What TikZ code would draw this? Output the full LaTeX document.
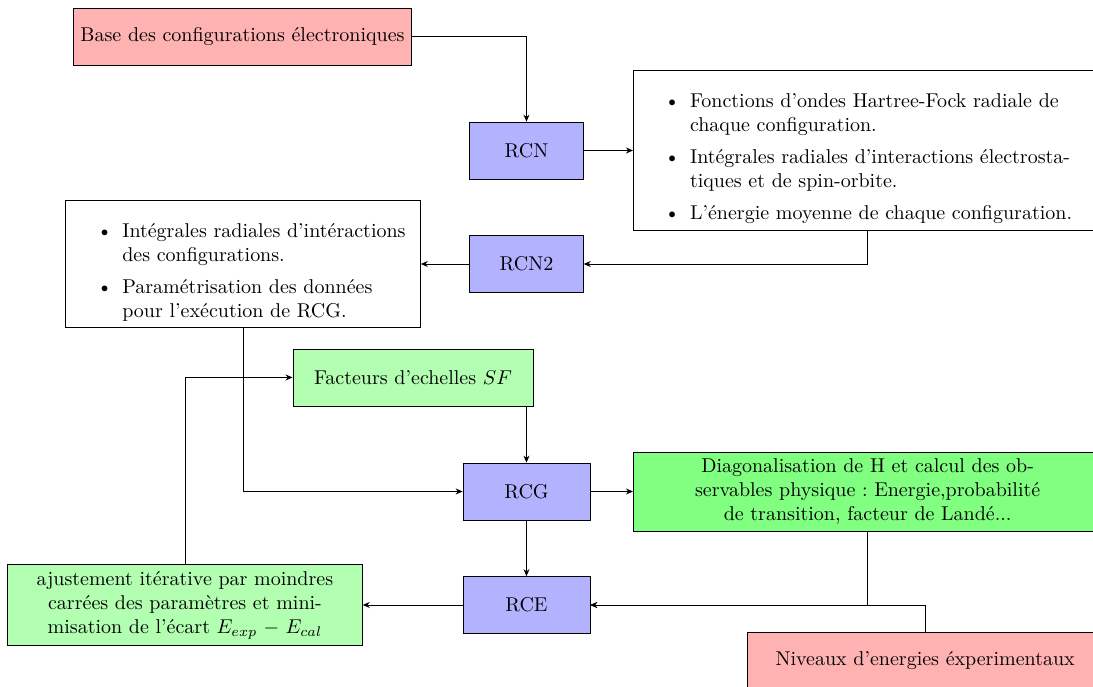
\documentclass[tikz,border=0pt]{standalone}
\usepackage{fontspec}
\usepackage{amsmath,amssymb}
\usepackage{xcolor}
\usepackage{enumitem}
\usepackage{tikz}
\usetikzlibrary{positioning,calc,arrows.meta}
\setlist[itemize]{topsep=3pt, partopsep=0pt, itemsep=2pt, parsep=2pt}
\frenchspacing

\begin{document}
\begin{tikzpicture}[
    >={Stealth[length=3.5pt,width=3pt]},
    prog/.style={draw, fill=blue!30, minimum width=2cm, minimum height=1cm},
    entree/.style={draw, fill=red!30, minimum height=1cm},
    listbox/.style={draw, fill=white, align=left},
    ajustbox/.style={draw, fill=green!30, align=center}
]
    \useasboundingbox (0,0) rectangle (19.21,-12.06);

    % Programmes RCN, RCN2, RCG, RCE
    \node[prog] (rcn) at (9.253,-2.645) {RCN};
    \node[prog] (rcn2) at (9.253,-4.640) {RCN2};
    \node[prog, minimum width=2.23cm] (rcg) at (9.253,-8.638) {RCG};
    \node[prog, minimum width=2.23cm] (rce) at (9.253,-10.633) {RCE};

    % Donnees d'entree
    \node[entree] (base) at (4.262,-0.641) {Base des configurations électroniques};
    \node[entree, minimum width=6.25cm, anchor=north west] (niveaux) at (13.128,-11.107) {Niveaux d'energies éxperimentaux};

    % Sorties de RCN et RCN2
    \node[listbox, text width=8cm, anchor=west] (sortie1) at (11.125,-2.645) {%
        \begin{itemize}
            \item Fonctions d'ondes Hartree-Fock radiale de chaque configuration.
            \item Intégrales radiales d'interactions électrosta-\newline tiques et de spin-orbite.
            \item L'énergie moyenne de chaque configuration.
        \end{itemize}};
    \node[listbox, text width=6cm] (sortie2) at (4.271,-4.640) {%
        \begin{itemize}
            \item Intégrales radiales d'intéractions des configurations.
            \item Paramétrisation des données pour l'exécution de RCG.
        \end{itemize}};

    % Ajustement
    \node[ajustbox, minimum width=4.22cm, minimum height=1cm] (sf) at (7.258,-6.634) {Facteurs d'echelles $SF$};
    \node[ajustbox, fill=green!50, text width=8cm, anchor=west] (diag) at (11.125,-8.638)
        {Diagonalisation de H et calcul des observables physique : Energie,probabilité de transition, facteur de Landé...};
    \node[ajustbox, text width=6cm] (ajust) at (3.251,-10.633)
        {ajustement itérative par moindres carrées des paramètres et mini\-misation de l'écart $E_{exp} - E_{cal}$};

    % Fleches
    \draw[->] (base.east) -| (rcn.north);
    \draw[->] (rcn.east) -- (sortie1.west);
    \draw[->] (sortie1.south) |- (rcn2.east);
    \draw[->] (rcn2.west) -- (sortie2.east);
    \draw[->] (sortie2.south) |- (rcg.west);
    \draw[->] (sf.south) -| (rcg.north);
    \draw[->] (rcg.east) -- (diag.west);
    \draw[->] (rcg.south) -- (rce.north);
    \draw[->] (diag.south) |- (rce.east);
    \draw[->] (niveaux.north) |- (rce.east);
    \draw[->] (rce.west) -- (ajust.east);
    \draw[->] (ajust.north) |- (sf.west);
\end{tikzpicture}
\end{document}
